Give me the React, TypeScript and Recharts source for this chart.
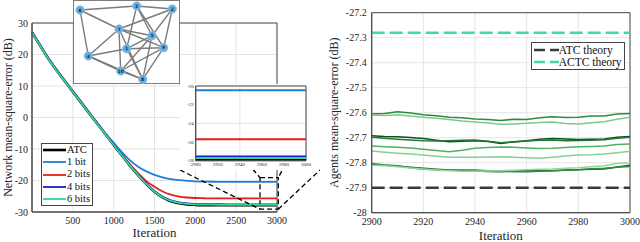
import React from 'react';
import {
  LineChart,
  Line,
  XAxis,
  YAxis,
  CartesianGrid,
  ReferenceLine,
  ReferenceArea,
  Legend,
  ScatterChart,
  Scatter,
} from 'recharts';

const SERIF = 'Liberation Serif, Times New Roman, DejaVu Serif, serif';
const AXIS = '#4a4a4a';
const INK = '#262626';

// ---- left panel: network MSE learning curves (dB) ----
const iterations = [
  0, 100, 200, 300, 400, 500, 600, 700, 800, 900, 1000, 1100, 1200, 1300, 1400, 1500,
  1600, 1700, 1800, 1900, 2000, 2100, 2200, 2300, 2400, 2500, 2600, 2700, 2800, 2900, 3000,
];
const atcMse = [
  27.0, 22.8, 18.7, 15.0, 11.6, 8.2, 4.8, 1.4, -2.0, -5.3, -8.7, -12.0, -15.26, -18.29, -21.16, -23.59,
  -25.39, -26.57, -27.23, -27.57, -27.73, -27.81, -27.85, -27.87, -27.88, -27.88, -27.88, -27.88, -27.88, -27.88, -27.88,
];
const bits1Mse = [
  27.25, 23.05, 18.95, 15.25, 11.85, 8.45, 5.05, 1.65, -1.75, -5.05, -8.0, -11.0, -13.6, -15.6, -17.1, -18.2,
  -19.0, -19.55, -19.9, -20.12, -20.26, -20.35, -20.4, -20.43, -20.45, -20.45, -20.45, -20.45, -20.45, -20.45, -20.45,
];
const bits2Mse = [
  27.1, 22.9, 18.8, 15.1, 11.7, 8.3, 4.9, 1.5, -1.9, -5.2, -8.6, -11.8, -14.9, -17.7, -20.2, -22.0,
  -23.5, -24.5, -25.1, -25.4, -25.56, -25.63, -25.67, -25.69, -25.7, -25.7, -25.7, -25.7, -25.7, -25.7, -25.7,
];
const bits4Mse = [
  27.05, 22.85, 18.75, 15.05, 11.65, 8.25, 4.85, 1.45, -1.95, -5.25, -8.65, -11.93, -15.19, -18.21, -21.05, -23.43,
  -25.18, -26.31, -26.94, -27.26, -27.41, -27.49, -27.52, -27.54, -27.55, -27.55, -27.55, -27.55, -27.55, -27.55, -27.55,
];
const bits6Mse = [
  26.95, 22.75, 18.65, 14.95, 11.55, 8.15, 4.75, 1.35, -2.05, -5.35, -8.75, -12.03, -15.29, -18.32, -21.17, -23.55,
  -25.32, -26.46, -27.1, -27.43, -27.58, -27.66, -27.69, -27.71, -27.72, -27.72, -27.72, -27.72, -27.72, -27.72, -27.72,
];

const mainTicksX = [500, 1000, 1500, 2000, 2500, 3000];
const mainTicksY = [-30, -20, -10, 0, 10, 20, 30];
const zoomTicksX = [2900, 2920, 2940, 2960, 2980, 3000];
const zoomTicksY = [-28, -26, -24, -22, -20];

// zoom lens (data units of the left panel)
const lensX = [2792, 3016];
const lensY = [-29.1, -19.1];
const connectors = [
  [1812, -16.67, 2792, -29.1],
  [1812, 10.6, 2792, -19.1],
  [3195, -10.3, 3016, -19.1],
  [3016, -29.1, 3527, -16.67],
];

// ---- network topology inset ----
const nodeIds = [1, 2, 3, 4, 5, 6, 7, 8, 9, 10];
const nodeX = [53.7, 99.3, 63.7, 15.3, 79.0, 7.0, 46.0, 69.7, 90.7, 47.7];
const nodeY = [48.7, 9.0, 6.0, 56.0, 35.7, 10.0, 29.0, 79.3, 47.7, 71.0];
const edges = [
  [6, 3], [6, 7], [6, 4], [3, 2], [7, 2], [3, 1], [3, 5], [3, 9], [2, 5], [2, 9],
  [7, 5], [7, 9], [7, 10], [7, 4], [7, 8], [4, 1], [1, 9], [1, 5], [1, 8], [5, 10],
  [5, 8], [9, 10], [9, 8], [4, 10], [4, 8], [10, 8],
];

// ---- right panel: per-agent MSE (dB) ----
const agentIterations = [
  2900, 2905, 2910, 2915, 2920, 2925, 2930, 2935, 2940, 2945, 2950,
  2955, 2960, 2965, 2970, 2975, 2980, 2985, 2990, 2995, 3000,
];
const agentA = [-27.605, -27.603, -27.596, -27.601, -27.608, -27.612, -27.618, -27.62, -27.625, -27.627, -27.631, -27.626, -27.627, -27.62, -27.616, -27.619, -27.618, -27.613, -27.613, -27.605, -27.603];
const agentB = [-27.609, -27.611, -27.608, -27.613, -27.618, -27.622, -27.627, -27.633, -27.637, -27.641, -27.646, -27.645, -27.642, -27.639, -27.637, -27.643, -27.645, -27.64, -27.636, -27.626, -27.618];
const agentC = [-27.692, -27.695, -27.696, -27.699, -27.703, -27.71, -27.716, -27.714, -27.712, -27.715, -27.723, -27.716, -27.712, -27.706, -27.703, -27.705, -27.707, -27.706, -27.705, -27.698, -27.695];
const agentD = [-27.698, -27.702, -27.706, -27.709, -27.712, -27.713, -27.712, -27.71, -27.709, -27.714, -27.72, -27.717, -27.713, -27.71, -27.709, -27.712, -27.711, -27.71, -27.708, -27.702, -27.698];
const agentE = [-27.733, -27.736, -27.738, -27.741, -27.746, -27.751, -27.756, -27.75, -27.742, -27.739, -27.737, -27.738, -27.741, -27.743, -27.742, -27.739, -27.736, -27.735, -27.733, -27.727, -27.725];
const agentF = [-27.753, -27.758, -27.762, -27.765, -27.769, -27.774, -27.778, -27.778, -27.778, -27.777, -27.776, -27.778, -27.78, -27.782, -27.778, -27.773, -27.769, -27.768, -27.765, -27.76, -27.754];
const agentG = [-27.807, -27.81, -27.813, -27.818, -27.822, -27.826, -27.829, -27.831, -27.833, -27.835, -27.836, -27.833, -27.831, -27.831, -27.832, -27.829, -27.828, -27.826, -27.825, -27.817, -27.81];
const agentH = [-27.803, -27.809, -27.812, -27.82, -27.826, -27.828, -27.83, -27.829, -27.829, -27.832, -27.834, -27.836, -27.836, -27.834, -27.832, -27.83, -27.828, -27.824, -27.822, -27.818, -27.815];
const agentI = [-27.81, -27.812, -27.816, -27.821, -27.825, -27.829, -27.832, -27.834, -27.834, -27.833, -27.832, -27.83, -27.828, -27.826, -27.825, -27.822, -27.82, -27.816, -27.812, -27.803, -27.8];
const atcTheory = -27.9;
const actcTheory = -27.28;

const agentTicksX = [2900, 2920, 2940, 2960, 2980, 3000];
const agentTicksY = [-28, -27.9, -27.8, -27.7, -27.6, -27.5, -27.4, -27.3, -27.2];

const mainSeries = [
  { key: 'atc', name: 'ATC', values: atcMse, color: '#000000', width: 2.6 },
  { key: 'b1', name: '1 bit', values: bits1Mse, color: '#1f7fd6', width: 1.8 },
  { key: 'b2', name: '2 bits', values: bits2Mse, color: '#e3201b', width: 1.8 },
  { key: 'b4', name: '4 bits', values: bits4Mse, color: '#1c1ccf', width: 1.8 },
  { key: 'b6', name: '6 bits', values: bits6Mse, color: '#2fd892', width: 1.8 },
];

const agentSeries = [
  { key: 'a', values: agentA, color: '#2b8c3f' },
  { key: 'b', values: agentB, color: '#7cc98a' },
  { key: 'c', values: agentC, color: '#0d4f1d' },
  { key: 'd', values: agentD, color: '#1f7733' },
  { key: 'e', values: agentE, color: '#52b062' },
  { key: 'f', values: agentF, color: '#88cf94' },
  { key: 'g', values: agentG, color: '#19612a' },
  { key: 'h', values: agentH, color: '#2f8d41' },
  { key: 'i', values: agentI, color: '#95d49f' },
];

const theorySeries = [
  { name: 'ATC theory', value: atcTheory, color: '#3a3a3a' },
  { name: 'ACTC theory', value: actcTheory, color: '#3ddb9d' },
];

const mainData = iterations.map((it, i) => {
  const row: Record<string, number> = { it };
  mainSeries.forEach((s) => (row[s.key] = s.values[i]));
  return row;
});

const agentData = agentIterations.map((it, i) => {
  const row: Record<string, number> = { it };
  agentSeries.forEach((s) => (row[s.key] = s.values[i]));
  return row;
});

const nodes = nodeIds.map((id, i) => ({ id, x: nodeX[i], y: nodeY[i] }));
const nodeById = (id: number) => nodes[nodeIds.indexOf(id)];

const tickStyle = { fill: INK, fontSize: 10, fontFamily: SERIF };
const labelStyle = { fill: INK, fontSize: 13, fontFamily: SERIF };
const yLabelStyle = { fill: INK, fontSize: 12, fontFamily: SERIF };

const MainLegend = () => (
  <div
    style={{
      width: 52,
      boxSizing: 'border-box',
      border: '1px solid #444',
      background: '#fff',
      padding: '0 2px 0 1px',
      fontFamily: SERIF,
      fontSize: 10.5,
      lineHeight: '12.2px',
      color: '#111',
    }}
  >
    {mainSeries.map((s) => (
      <div key={s.key} style={{ display: 'flex', alignItems: 'center', whiteSpace: 'nowrap' }}>
        <svg width={23} height={6}>
          <line x1={0} y1={3} x2={23} y2={3} stroke={s.color} strokeWidth={s.width} />
        </svg>
        <span style={{ marginLeft: 1 }}>{s.name}</span>
      </div>
    ))}
  </div>
);

const TheoryLegend = () => (
  <div
    style={{
      width: 94,
      boxSizing: 'border-box',
      border: '1px solid #444',
      background: '#fff',
      padding: '1px 2px',
      fontFamily: SERIF,
      fontSize: 11.5,
      lineHeight: '12.3px',
      color: '#111',
    }}
  >
    {theorySeries.map((s) => (
      <div key={s.name} style={{ display: 'flex', alignItems: 'center', whiteSpace: 'nowrap' }}>
        <svg width={25} height={6}>
          <line x1={0} y1={3} x2={25} y2={3} stroke={s.color} strokeWidth={2.4} strokeDasharray="11 5" />
        </svg>
        <span>{s.name}</span>
      </div>
    ))}
  </div>
);

const NodeShape = (props: { cx?: number; cy?: number; payload?: { id: number } }) => {
  const { cx, cy, payload } = props;
  if (cx == null || cy == null || !payload) return <g />;
  return (
    <g>
      <circle cx={cx} cy={cy} r={4.3} fill="#66aee0" stroke="#8dc5ec" strokeWidth={0.6} />
      <text
        x={cx}
        y={cy}
        textAnchor="middle"
        dominantBaseline="central"
        fontSize={4.6}
        fontWeight="bold"
        fontFamily="DejaVu Sans, sans-serif"
        fill="#1d2a38"
      >
        {payload.id}
      </text>
    </g>
  );
};

const EmptyShape = () => <g />;

export default function App() {
  return (
    <div style={{ position: 'absolute', left: 0, top: 0, width: 640, height: 242, background: '#fff', overflow: 'hidden' }}>
      {/* left: network learning curves */}
      <div style={{ position: 'absolute', left: 0, top: 0 }}>
        <LineChart width={320} height={242} data={mainData} margin={{ top: 23, right: 43, bottom: 0, left: 0 }}>
          <CartesianGrid stroke="#e3e3e3" />
          <XAxis
            dataKey="it"
            type="number"
            domain={[0, 3000]}
            ticks={mainTicksX}
            height={30}
            tickLine={false}
            tickSize={3}
            tickMargin={2}
            axisLine={{ stroke: AXIS }}
            tick={tickStyle}
            label={{ value: 'Iteration', position: 'insideBottom', offset: 5, style: labelStyle }}
          />
          <YAxis
            type="number"
            domain={[-30, 30]}
            ticks={mainTicksY}
            width={32}
            tickLine={false}
            tickSize={2}
            tickMargin={2}
            axisLine={{ stroke: AXIS }}
            tick={tickStyle}
            label={{ value: 'Network mean-square-error (dB)', angle: -90, position: 'center', dx: -8, style: yLabelStyle }}
          />
          <ReferenceArea x1={0} x2={3000} y1={-30} y2={30} fill="none" stroke={AXIS} strokeWidth={1} />
          {mainSeries.map((s) => (
            <Line
              key={s.key}
              dataKey={s.key}
              name={s.name}
              type="monotone"
              stroke={s.color}
              strokeWidth={s.width}
              dot={false}
              isAnimationActive={false}
            />
          ))}
          <ReferenceArea
            x1={lensX[0]}
            x2={lensX[1]}
            y1={lensY[0]}
            y2={lensY[1]}
            fill="none"
            stroke="#000"
            strokeWidth={1.3}
            strokeDasharray="5 3"
            ifOverflow="visible"
          />
          {connectors.map((c, i) => (
            <ReferenceLine
              key={`con-${i}`}
              segment={[
                { x: c[0], y: c[1] },
                { x: c[2], y: c[3] },
              ]}
              stroke="#000"
              strokeWidth={1.3}
              strokeDasharray="5 3"
              ifOverflow="visible"
            />
          ))}
          <Legend
            layout="horizontal"
            verticalAlign="middle"
            align="center"
            content={<MainLegend />}
            wrapperStyle={{ left: 41, top: 143, width: 'auto' }}
          />
        </LineChart>
      </div>

      {/* network topology inset */}
      <div
        style={{
          position: 'absolute',
          left: 73,
          top: 0,
          width: 107,
          height: 84,
          background: '#fff',
          outline: '1px solid #7d7d7d',
          outlineOffset: -1,
        }}
      >
        <ScatterChart width={107} height={84} margin={{ top: 0, right: 0, bottom: 0, left: 0 }}>
          <XAxis type="number" dataKey="x" domain={[0, 107]} hide />
          <YAxis type="number" dataKey="y" domain={[0, 84]} reversed hide />
          {edges.map(([a, b], i) => (
            <Scatter
              key={`edge-${i}`}
              data={[nodeById(a), nodeById(b)]}
              line={{ stroke: '#7b7b7b', strokeWidth: 1.4 }}
              shape={EmptyShape}
              isAnimationActive={false}
            />
          ))}
          <Scatter data={nodes} shape={NodeShape} isAnimationActive={false} />
        </ScatterChart>
      </div>

      {/* zoomed inset of the steady state */}
      <div style={{ position: 'absolute', left: 180, top: 84, width: 132, height: 86, background: '#fff' }}>
        <LineChart width={132} height={86} data={mainData} margin={{ top: 2, right: 6, bottom: 0, left: 0 }}>
          <CartesianGrid stroke="#e3e3e3" />
          <XAxis
            dataKey="it"
            type="number"
            domain={[2900, 3000]}
            allowDataOverflow
            ticks={zoomTicksX}
            height={9.3}
            tickLine={false}
            tickSize={1}
            tickMargin={1}
            axisLine={{ stroke: AXIS }}
            tick={{ ...tickStyle, fontSize: 5 }}
          />
          <YAxis
            type="number"
            domain={[-28, -20]}
            allowDataOverflow
            ticks={zoomTicksY}
            width={15.7}
            tickLine={false}
            tickSize={1}
            tickMargin={1}
            axisLine={{ stroke: AXIS }}
            tick={{ ...tickStyle, fontSize: 5 }}
          />
          <ReferenceArea x1={2900} x2={3000} y1={-28} y2={-20} fill="none" stroke={AXIS} strokeWidth={1} />
          {mainSeries.map((s) => (
            <Line
              key={s.key}
              dataKey={s.key}
              type="linear"
              stroke={s.color}
              strokeWidth={2}
              dot={false}
              isAnimationActive={false}
            />
          ))}
        </LineChart>
      </div>

      {/* right: per-agent steady-state MSE */}
      <div style={{ position: 'absolute', left: 320, top: 0 }}>
        <LineChart width={320} height={242} data={agentData} margin={{ top: 12.7, right: 10, bottom: 0, left: 0 }}>
          <CartesianGrid stroke="#e6e6e6" />
          <XAxis
            dataKey="it"
            type="number"
            domain={[2900, 3000]}
            ticks={agentTicksX}
            height={29.3}
            tickLine={false}
            tickSize={3}
            tickMargin={2}
            axisLine={{ stroke: AXIS }}
            tick={tickStyle}
            label={{ value: 'Iteration', position: 'insideBottom', offset: 2, style: labelStyle }}
          />
          <YAxis
            type="number"
            domain={[-28, -27.2]}
            ticks={agentTicksY}
            width={51.7}
            tickLine={false}
            tickSize={3}
            tickMargin={2}
            axisLine={{ stroke: AXIS }}
            tick={tickStyle}
            tickFormatter={(v: number) => (Number.isInteger(v) ? String(v) : v.toFixed(1))}
            label={{ value: 'Agents mean-square-error (dB)', angle: -90, position: 'center', dx: -12, style: yLabelStyle }}
          />
          <ReferenceArea x1={2900} x2={3000} y1={-28} y2={-27.2} fill="none" stroke={AXIS} strokeWidth={1} />
          {agentSeries.map((s) => (
            <Line
              key={s.key}
              dataKey={s.key}
              type="linear"
              stroke={s.color}
              strokeWidth={1.6}
              dot={false}
              isAnimationActive={false}
            />
          ))}
          {theorySeries.map((s) => (
            <ReferenceLine key={s.name} y={s.value} stroke={s.color} strokeWidth={2.4} strokeDasharray="13 5" />
          ))}
          <Legend
            layout="horizontal"
            verticalAlign="middle"
            align="center"
            content={<TheoryLegend />}
            wrapperStyle={{ left: 210.7, top: 41.7, width: 'auto' }}
          />
        </LineChart>
      </div>
    </div>
  );
}
